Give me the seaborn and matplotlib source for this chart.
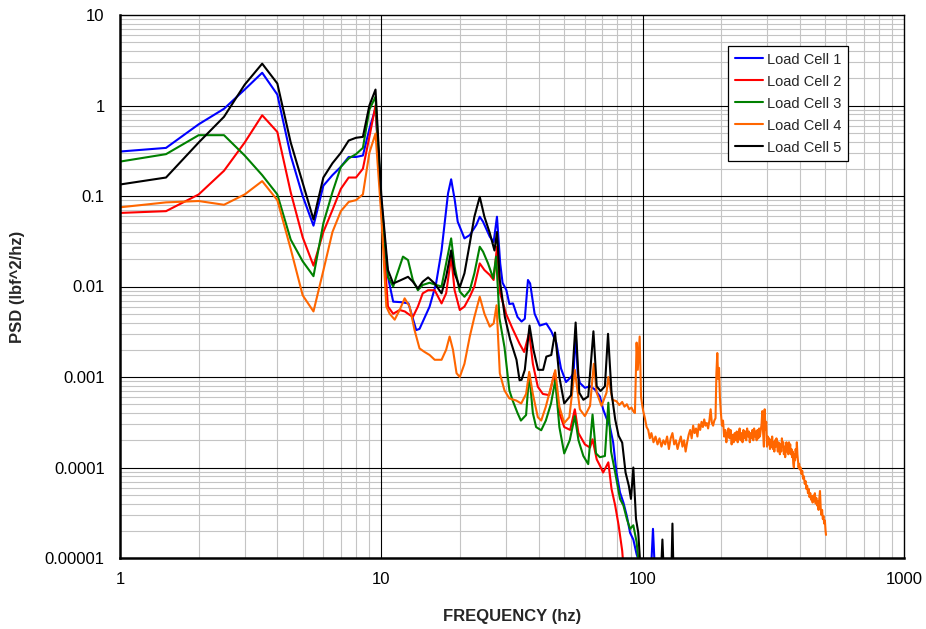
import numpy as np
import pandas as pd
import matplotlib
matplotlib.use("Agg")
import matplotlib.pyplot as plt
import seaborn as sns
from matplotlib.ticker import LogLocator, NullFormatter

# ---------------- data ----------------
series_names = ["Load Cell 1", "Load Cell 2", "Load Cell 3", "Load Cell 4", "Load Cell 5"]
series_colors = ["#0000FF", "#FF0000", "#008000", "#FF6600", "#000000"]

freq_low = [1, 1.5, 2, 2.5, 3, 3.5, 4, 4.5, 5, 5.5, 6, 6.5, 7, 7.5, 8, 8.5, 9, 9.5, 10]

psd_lc1_low = [0.31, 0.34, 0.62, 0.92, 1.5, 2.3, 1.32, 0.28, 0.1, 0.047, 0.13, 0.17, 0.21, 0.27, 0.27, 0.28, 0.55, 0.93, 0.09]
freq_lc1_hi = [10.6, 11.1, 12, 12.7, 13.6, 14, 15.3, 16.2, 17, 18,
               18.5, 19.1, 19.6, 20.8, 21.8, 23.1, 23.8, 24.5, 26, 26.9,
               27.7, 28.5, 29.1, 30.1, 30.9, 31.9, 33.2, 34.4, 35.4, 36.4,
               37.1, 38.6, 40.4, 42.8, 44.7, 46.7, 48.7, 50.9, 53.2, 54.4,
               55.4, 56.4, 57.5, 60.1, 62.9, 65.6, 68.6, 70.6, 72.7, 74.8,
               77.1, 79.4, 81.9, 84.4, 87, 89.5, 92.1, 94.8, 97, 100,
               107, 109.5, 112, 118]
psd_lc1_hi = [0.0128, 0.0068, 0.0067, 0.0065, 0.0033, 0.0034, 0.006, 0.0108, 0.025, 0.107,
              0.153, 0.09, 0.052, 0.034, 0.037, 0.048, 0.059, 0.052, 0.0355, 0.031,
              0.059, 0.018, 0.011, 0.0091, 0.0064, 0.0065, 0.0046, 0.0041, 0.0044, 0.0118,
              0.0108, 0.005, 0.0037, 0.0039, 0.0032, 0.0024, 0.00124, 0.00088, 0.001, 0.0011,
              0.0032, 0.0011, 0.00086, 0.00076, 0.00079, 0.00073, 0.00061, 0.00044, 0.00035, 0.00029,
              0.00019, 8.8e-5, 5.3e-5, 4.1e-5, 2.9e-5, 1.9e-5, 1.6e-5, 1.1e-5, 9e-6, 5e-6,
              5e-6, 2.1e-5, 5e-6, 5e-6]

psd_lc2_low = [0.065, 0.068, 0.104, 0.19, 0.39, 0.78, 0.51, 0.11, 0.035, 0.017, 0.04, 0.07, 0.12, 0.16, 0.16, 0.2, 0.45, 1.0, 0.07]
freq_lc2_hi = [10.6, 11.1, 11.75, 12.3, 12.65, 13.2, 13.8, 14.4, 15.1, 16.0,
               17.0, 17.7, 18.5, 19.07, 19.96, 20.8, 21.8, 22.7, 23.8, 24.8,
               26.0, 26.9, 27.7, 28.5, 30.0, 31.8, 33.8, 35.2, 36.8, 38.0,
               39.7, 41.5, 43.9, 45.9, 48.0, 50.1, 52.8, 55.0, 56.8, 60.1,
               62.9, 64.3, 66.7, 68.6, 70.6, 73.9, 76.0, 78.5, 80.9, 83.5,
               85.5]
psd_lc2_hi = [0.006, 0.005, 0.0055, 0.0053, 0.005, 0.0046, 0.006, 0.0084, 0.0091, 0.0091,
              0.0065, 0.0084, 0.0214, 0.0091, 0.0055, 0.006, 0.0077, 0.01, 0.018, 0.0152,
              0.0134, 0.0118, 0.0275, 0.0084, 0.005, 0.0034, 0.00233, 0.00189, 0.0031, 0.0014,
              0.00078, 0.00065, 0.00063, 0.00109, 0.0004, 0.00028, 0.00026, 0.00044, 0.00024, 0.00018,
              0.000166, 0.000205, 0.000123, 0.000105, 8.8e-5, 0.000114, 5.8e-5, 3.8e-5, 2.3e-5, 1.2e-5,
              5e-6]

psd_lc3_low = [0.24, 0.29, 0.47, 0.47, 0.28, 0.17, 0.104, 0.033, 0.019, 0.013, 0.05, 0.11, 0.21, 0.26, 0.29, 0.34, 0.9, 1.25, 0.08]
freq_lc3_hi = [10.6, 11.1, 11.4, 12.1, 12.65, 13.2, 13.8, 14.4, 15.3, 16.2,
               17.0, 17.7, 18.5, 19.07, 19.96, 20.8, 21.8, 22.7, 23.8, 24.5,
               25.6, 26.8, 27.5, 28.3, 29.6, 30.9, 31.8, 33.2, 34.2, 35.8,
               36.8, 38.0, 39.1, 40.9, 42.6, 44.6, 46.3, 48.0, 50.1, 52.6,
               55.0, 56.8, 59.3, 61.9, 64.3, 66.3, 68.6, 71.7, 73.9, 75.7,
               78.5, 81.9, 84.4, 87.0, 89.5, 92.1, 94.8, 96.2, 98]
psd_lc3_hi = [0.0128, 0.01, 0.0128, 0.0214, 0.0196, 0.0118, 0.0091, 0.0104, 0.011, 0.0104,
              0.01, 0.018, 0.034, 0.0166, 0.0088, 0.0077, 0.0091, 0.014, 0.0275, 0.0243,
              0.018, 0.0123, 0.0214, 0.0045, 0.00213, 0.00071, 0.00055, 0.0004, 0.00033, 0.00038,
              0.00109, 0.0004, 0.00028, 0.000258, 0.00033, 0.00051, 0.00092, 0.00028, 0.000143, 0.0002,
              0.00037, 0.0002, 0.000134, 0.000109, 0.000385, 0.000143, 0.00013, 0.000134, 0.00052, 0.00015,
              8.8e-5, 4.5e-5, 3.8e-5, 2.7e-5, 2.1e-5, 2.3e-5, 1.5e-5, 9.8e-6, 5e-6]

psd_lc4_low = [0.075, 0.085, 0.088, 0.08, 0.104, 0.146, 0.09, 0.026, 0.008, 0.0053, 0.015, 0.04, 0.068, 0.086, 0.09, 0.104, 0.3, 0.49, 0.06]
freq_lc4_mid = [10.45, 10.76, 11.25, 11.75, 12.28, 12.83, 13.4, 14.0, 14.6, 15.3,
                16.0, 17.0, 17.7, 18.25, 18.8, 19.4, 19.96, 20.8, 21.8, 22.7,
                23.8, 24.8, 26.0, 26.9, 27.6, 28.4, 29.6, 30.9, 32.8, 34.3,
                35.8, 36.8, 38.0, 39.7, 40.9, 42.6, 44.6, 46.3, 48.0, 50.1,
                52.4, 55.0, 57.5, 60.1, 62.9, 65.0, 66.7, 69.6, 72.7, 73.9,
                76.6, 79.4, 81.4, 83.5, 85.2, 87.0, 88.8, 90.6, 92.0, 93.4,
                94.8, 95.8, 97.4, 98.6, 99.7]
psd_lc4_mid = [0.006, 0.005, 0.0043, 0.0055, 0.0074, 0.006, 0.0033, 0.00207, 0.0019, 0.00175,
               0.00155, 0.00155, 0.002, 0.0028, 0.002, 0.0011, 0.001, 0.0014, 0.0028, 0.0046,
               0.0077, 0.005, 0.0036, 0.0039, 0.0062, 0.0011, 0.00071, 0.00058, 0.00055, 0.00051,
               0.00065, 0.00114, 0.00065, 0.00036, 0.00033, 0.00047, 0.00078, 0.00119, 0.00047, 0.00031,
               0.00036, 0.0012, 0.00044, 0.00037, 0.00048, 0.0014, 0.00067, 0.00048, 0.00067, 0.001,
               0.00056, 0.00054, 0.00049, 0.00053, 0.00047, 0.0005, 0.00044, 0.00046, 0.00042, 0.0004,
               0.0024, 0.0012, 0.0028, 0.0006, 0.00048]
freq_lc4_hi = [100.5, 102, 103.5, 105, 106.5, 108, 110, 112, 114, 116,
               118, 120, 122, 124, 126, 128, 130, 132, 134, 136,
               138, 140, 142, 144, 146, 148, 150, 152, 154, 156,
               158, 160, 162, 164, 166, 168, 170, 172, 174, 176,
               178, 180, 182, 184, 186, 188, 190, 191.5, 193, 194.5,
               196, 197.5, 199, 201, 203, 205, 207, 209, 211, 213,
               215, 217, 219, 221, 223, 225, 227, 229, 231, 233,
               235, 237, 239, 241, 243, 245, 247, 249, 251, 253,
               255, 257, 259, 261, 263, 265, 267, 269, 271, 273,
               275, 277, 279, 281, 283, 285, 287, 289, 291, 293,
               295, 297, 299, 301, 303, 305, 307, 309, 311, 313,
               315, 317, 319, 321, 323, 325, 327, 329, 331, 333,
               335, 337, 339, 341, 343, 345, 347, 349, 351, 353,
               355, 357, 359, 361, 363, 365, 367, 369, 371, 373,
               375, 377, 379, 381, 383, 385, 387, 389, 391, 393,
               395, 397, 399, 402, 405, 408, 411, 414, 417, 420,
               423, 426, 429, 432, 435, 438, 441, 444, 447, 450,
               453, 456, 459, 462, 465, 468, 471, 474, 477, 480,
               483, 486, 489, 492, 495, 498, 501, 503]
psd_lc4_hi = [0.00042, 0.00035, 0.00028, 0.00026, 0.00021, 0.00024, 0.00019, 0.00022, 0.00018, 0.00021,
              0.00017, 0.0002, 0.00018, 0.00022, 0.00016, 0.00021, 0.00024, 0.00018, 0.0002, 0.00016,
              0.00019, 0.00022, 0.00017, 0.0002, 0.00015, 0.00019, 0.00023, 0.00026, 0.00021, 0.00029,
              0.00024, 0.00027, 0.00022, 0.0003, 0.00026, 0.00032, 0.00028, 0.00034, 0.00029, 0.00031,
              0.00027, 0.00033, 0.00044, 0.00031, 0.00029, 0.00033, 0.00035, 0.0011, 0.00184, 0.00095,
              0.00126, 0.0006, 0.00042, 0.00029, 0.00033, 0.00022, 0.00026, 0.00019, 0.00024, 0.00027,
              0.00021, 0.00026, 0.00018, 0.00023, 0.00019, 0.00024, 0.0002, 0.00025, 0.00019, 0.00023,
              0.00027, 0.0002, 0.00024, 0.00019, 0.00026, 0.00021, 0.00025, 0.0002, 0.00027, 0.00022,
              0.00025, 0.00019, 0.00024, 0.00021, 0.00026, 0.0002, 0.00027, 0.00022, 0.00025, 0.0002,
              0.00026, 0.00021, 0.00027, 0.00022, 0.00026, 0.0003, 0.00042, 0.00024, 0.00017, 0.00044,
              0.00026, 0.00032, 0.00017, 0.00022, 0.00018, 0.00021, 0.00016, 0.0002, 0.00017, 0.00022,
              0.00016, 0.00019, 0.00015, 0.0002, 0.00017, 0.00021, 0.00018, 0.00015, 0.00019, 0.00016,
              0.00014, 0.00018, 0.00015, 0.00021, 0.00017, 0.00019, 0.00014, 0.00017, 0.00013, 0.00016,
              0.00019, 0.00015, 0.00018, 0.00014, 0.00019, 0.00016, 0.00018, 0.00014, 0.00016, 0.00013,
              0.00015, 0.00011, 0.0001, 0.00014, 0.00012, 0.00016, 0.00013, 0.00019, 0.00014, 0.00012,
              0.0001, 0.00011, 0.000095, 0.0001, 0.000085, 0.000092, 0.000075, 0.00008, 0.000066, 0.000071,
              0.000058, 0.000063, 0.000052, 0.000058, 0.000047, 0.000052, 0.000044, 0.000048, 0.000041, 0.000049,
              0.000043, 0.000052, 0.00004, 0.000046, 0.000038, 0.000042, 0.000034, 0.000045, 0.000055, 0.000036,
              0.00003, 0.000034, 0.000027, 0.000029, 0.000024, 0.000026, 0.00002, 0.000018]

psd_lc5_low = [0.134, 0.16, 0.39, 0.75, 1.7, 2.9, 1.75, 0.39, 0.14, 0.055, 0.16, 0.23, 0.3, 0.41, 0.44, 0.45, 1.0, 1.5, 0.1]
freq_lc5_hi = [10.6, 11.1, 11.75, 12.65, 13.2, 13.8, 14.4, 15.1, 16.0, 17.0,
               17.7, 18.5, 19.07, 19.96, 20.8, 21.8, 22.7, 23.8, 24.8, 26.0,
               27.1, 27.7, 28.4, 29.7, 31.1, 32.9, 33.8, 34.4, 35.4, 36.9,
               38.2, 39.8, 41.6, 42.8, 44.7, 46.2, 48.0, 50.1, 53.2, 55.4,
               57.2, 59.3, 61.9, 64.8, 66.7, 69.0, 71.7, 73.7, 76.0, 78.5,
               80.9, 83.5, 86.0, 88.5, 90.2, 92.1, 94.3, 96.2, 97.6, 99,
               117, 119, 121, 128.5, 130, 131.5]
psd_lc5_hi = [0.0152, 0.0108, 0.0116, 0.0128, 0.0113, 0.0095, 0.0113, 0.0126, 0.0108, 0.0084,
              0.0128, 0.025, 0.014, 0.0098, 0.014, 0.03, 0.059, 0.098, 0.059, 0.039,
              0.025, 0.04, 0.0118, 0.0046, 0.0026, 0.00155, 0.00092, 0.00093, 0.0012, 0.0037,
              0.002, 0.0012, 0.0012, 0.00168, 0.00175, 0.0031, 0.001, 0.00051, 0.00063, 0.004,
              0.00067, 0.00056, 0.00061, 0.0032, 0.00079, 0.0007, 0.00079, 0.003, 0.00067, 0.00034,
              0.000224, 0.000188, 8.8e-5, 6.3e-5, 4.5e-5, 1.0e-4, 2.7e-5, 1.9e-5, 9.8e-6, 5e-6,
              5e-6, 1.6e-5, 5e-6, 5e-6, 2.4e-5, 5e-6]

xtick_vals = [1, 10, 100, 1000]
xtick_labels = ["1", "10", "100", "1000"]
ytick_vals = [1e-5, 1e-4, 1e-3, 1e-2, 1e-1, 1, 10]
ytick_labels = ["0.00001", "0.0001", "0.001", "0.01", "0.1", "1", "10"]

# ---------------- assemble ----------------
series_freq = [freq_low + freq_lc1_hi,
               freq_low + freq_lc2_hi,
               freq_low + freq_lc3_hi,
               freq_low + freq_lc4_mid + freq_lc4_hi,
               freq_low + freq_lc5_hi]
series_psd = [psd_lc1_low + psd_lc1_hi,
              psd_lc2_low + psd_lc2_hi,
              psd_lc3_low + psd_lc3_hi,
              psd_lc4_low + psd_lc4_mid + psd_lc4_hi,
              psd_lc5_low + psd_lc5_hi]

frames = []
for name, f, p in zip(series_names, series_freq, series_psd):
    frames.append(pd.DataFrame({"freq": f, "psd": p, "series": name}))
df = pd.concat(frames, ignore_index=True)

sns.set_style("white")
plt.rcParams["font.family"] = ["Liberation Sans", "DejaVu Sans"]

fig = plt.figure(figsize=(9.26, 6.29), dpi=100)
ax = fig.add_axes([120 / 926, 1 - 558 / 629, 784 / 926, 543 / 629])

sns.lineplot(data=df, x="freq", y="psd", hue="series", hue_order=series_names,
             palette=dict(zip(series_names, series_colors)), estimator=None,
             sort=False, linewidth=1.5, ax=ax, zorder=3)

ax.set_xscale("log")
ax.set_yscale("log")
ax.set_xlim(1, 1000)
ax.set_ylim(1e-5, 10)

ax.set_xticks(xtick_vals)
ax.set_xticklabels(xtick_labels)
ax.set_yticks(ytick_vals)
ax.set_yticklabels(ytick_labels)
ax.xaxis.set_minor_locator(LogLocator(base=10, subs=(2, 3, 4, 5, 6, 7, 8, 9), numticks=50))
ax.yaxis.set_minor_locator(LogLocator(base=10, subs=(2, 3, 4, 5, 6, 7, 8, 9), numticks=50))
ax.xaxis.set_minor_formatter(NullFormatter())
ax.yaxis.set_minor_formatter(NullFormatter())

# light minor grid via the axes, dark decade lines drawn above it
ax.set_axisbelow(True)
ax.grid(True, which="minor", color="#c4c4c4", linewidth=0.8)
ax.grid(False, which="major")
for xv in xtick_vals[1:-1]:
    ax.axvline(xv, color="#000000", linewidth=0.8, zorder=1)
for yv in ytick_vals[1:-1]:
    ax.axhline(yv, color="#000000", linewidth=0.8, zorder=1)

ax.tick_params(axis="y", which="major", length=6, width=1, direction="out",
               labelsize=12, pad=5, colors="black")
ax.tick_params(axis="x", which="major", length=0, labelsize=12, pad=10, colors="black")
ax.tick_params(which="minor", length=0)

for s in ax.spines.values():
    s.set_color("black")
    s.set_linewidth(1.0)
    s.set_zorder(4)
ax.spines["left"].set_linewidth(1.8)
ax.spines["bottom"].set_linewidth(1.8)

ax.set_xlabel("FREQUENCY (hz)", fontsize=12, fontweight="bold")
ax.set_ylabel("PSD (lbf^2/hz)", fontsize=12, fontweight="bold")
ax.xaxis.set_label_coords(0.5, -0.094)
ax.yaxis.set_label_coords(-0.121, 0.5)

handles, labels = ax.get_legend_handles_labels()
leg = ax.legend(handles, labels, loc="upper right", bbox_to_anchor=(0.9286, 0.943),
                fontsize=10.5, frameon=True, fancybox=False, edgecolor="black",
                framealpha=1, borderaxespad=0, handlelength=1.9, handletextpad=0.3,
                labelspacing=0.55, borderpad=0.45)
leg.get_frame().set_linewidth(0.9)
leg.set_zorder(5)
for h in leg.get_lines():
    h.set_linewidth(1.5)

fig.savefig("out.png", dpi=100, facecolor="white")
